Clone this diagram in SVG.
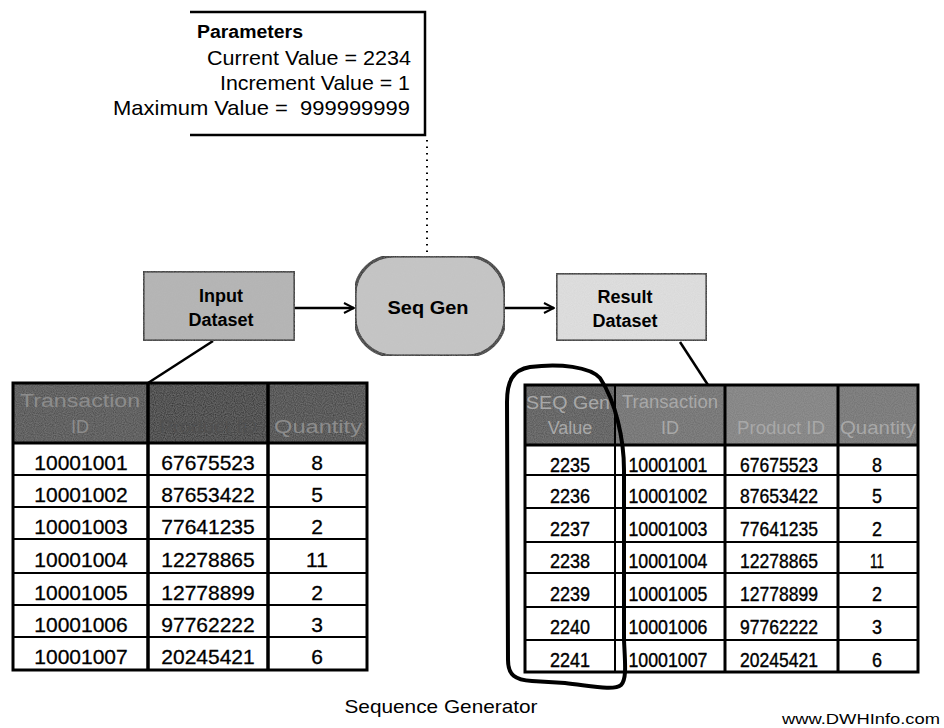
<svg xmlns="http://www.w3.org/2000/svg" width="944" height="728" viewBox="0 0 944 728">
<defs>
<marker id="arr" viewBox="0 0 12 12" refX="11" refY="6" markerWidth="12" markerHeight="12" markerUnits="userSpaceOnUse" orient="auto">
<path d="M1,1 L11,6 L1,11" fill="none" stroke="#000" stroke-width="2"/>
</marker>
<filter id="grain" x="0" y="0" width="100%" height="100%">
<feTurbulence type="fractalNoise" baseFrequency="0.9" numOctaves="1" seed="3" result="n"/>
<feColorMatrix in="n" type="matrix" values="0 0 0 0 0.5  0 0 0 0 0.5  0 0 0 0 0.5  0 0 0 0.35 0" result="g"/>
<feComposite in="g" in2="SourceGraphic" operator="in" result="gc"/>
<feMerge><feMergeNode in="SourceGraphic"/><feMergeNode in="gc"/></feMerge>
</filter>
</defs>
<style>
text{font-family:"Liberation Sans",Arial,Helvetica,sans-serif;fill:#000}
.b{font-weight:bold}
.p{font-size:21px}
.node{stroke:#000;stroke-width:3}
.lbl{font-size:18px;font-weight:bold;text-anchor:middle}
.cell{font-size:21px;text-anchor:middle;stroke:#000;stroke-width:0.3}
.rc{font-size:21px;text-anchor:middle;stroke:#000;stroke-width:0.4}
.hd{font-size:18px;text-anchor:middle;fill:#8c8c8c}
.hdr{font-size:18px;text-anchor:middle;fill:#a8a8a8}
.grid{stroke:#000;fill:none}
.conn{stroke:#000;stroke-width:2.5;fill:none}
</style>
<rect width="944" height="728" fill="#fff"/>

<g id="parameters">
<path d="M190,12 L425,12 L425,135 L190,135" fill="none" stroke="#000" stroke-width="2.5"/>
<text x="197" y="38" class="b" font-size="18" textLength="106" lengthAdjust="spacingAndGlyphs">Parameters</text>
<text x="411" y="65" class="p" text-anchor="end" textLength="204" lengthAdjust="spacingAndGlyphs">Current Value = 2234</text>
<text x="410" y="90" class="p" text-anchor="end" textLength="190" lengthAdjust="spacingAndGlyphs">Increment Value = 1</text>
<text x="410" y="115" class="p" text-anchor="end" xml:space="preserve" textLength="297" lengthAdjust="spacingAndGlyphs">Maximum Value =  999999999</text>
</g>

<g id="connectors">
<line x1="427" y1="140" x2="427" y2="254" stroke="#000" stroke-width="2" stroke-dasharray="1.5,5"/>
<line x1="295" y1="308" x2="354" y2="308" class="conn" marker-end="url(#arr)"/>
<line x1="505" y1="308" x2="554" y2="308" class="conn" marker-end="url(#arr)"/>
<line x1="213" y1="341" x2="148" y2="383" class="conn"/>
<line x1="680" y1="342" x2="708" y2="385" class="conn"/>
</g>

<g id="input-dataset">
<rect x="143" y="271" width="152" height="70" fill="#b4b4b4" class="node" filter="url(#grain)"/>
<text x="221" y="302" class="lbl">Input</text>
<text x="221" y="326" class="lbl">Dataset</text>
</g>

<g id="seq-gen">
<rect x="355" y="256" width="150" height="100" rx="38" ry="38" fill="#c6c6c6" class="node" filter="url(#grain)"/>
<text x="428" y="314" class="lbl" font-size="19" textLength="81" lengthAdjust="spacingAndGlyphs">Seq Gen</text>
</g>

<g id="result-dataset">
<rect x="556" y="273" width="151" height="68" fill="#e2e2e2" class="node" filter="url(#grain)"/>
<text x="625" y="303" class="lbl">Result</text>
<text x="625" y="327" class="lbl">Dataset</text>
</g>

<g id="input-table">
<rect x="13" y="383" width="135" height="60" fill="#3c3c3c" filter="url(#grain)"/>
<rect x="148" y="383" width="120" height="60" fill="#141414" filter="url(#grain)"/>
<rect x="268" y="383" width="99" height="60" fill="#2e2e2e" filter="url(#grain)"/>
<text x="80" y="407" class="hd" textLength="120" lengthAdjust="spacingAndGlyphs">Transaction</text>
<text x="80" y="433" class="hd">ID</text>
<text x="208" y="433" class="hd" style="fill:#505050" textLength="98" lengthAdjust="spacingAndGlyphs">Product ID</text>
<text x="318" y="433" class="hd" textLength="88" lengthAdjust="spacingAndGlyphs">Quantity</text>
<rect x="13" y="383" width="354" height="287" class="grid" stroke-width="3"/>
<path d="M148,383 V670 M268,383 V670" class="grid" stroke-width="3.5"/>
<path d="M13,443 H367" class="grid" stroke-width="3"/>
<path d="M13,475 H367 M13,507 H367 M13,539 H367 M13,573 H367 M13,605 H367 M13,637 H367" class="grid" stroke-width="2"/>
<text x="81" y="470" class="cell">10001001</text>
<text x="81" y="502" class="cell">10001002</text>
<text x="81" y="534" class="cell">10001003</text>
<text x="81" y="567" class="cell">10001004</text>
<text x="81" y="600" class="cell">10001005</text>
<text x="81" y="632" class="cell">10001006</text>
<text x="81" y="664" class="cell">10001007</text>
<text x="208" y="470" class="cell">67675523</text>
<text x="208" y="502" class="cell">87653422</text>
<text x="208" y="534" class="cell">77641235</text>
<text x="208" y="567" class="cell">12278865</text>
<text x="208" y="600" class="cell">12778899</text>
<text x="208" y="632" class="cell">97762222</text>
<text x="208" y="664" class="cell">20245421</text>
<text x="317" y="470" class="cell">8</text>
<text x="317" y="502" class="cell">5</text>
<text x="317" y="534" class="cell">2</text>
<text x="317" y="567" class="cell">11</text>
<text x="317" y="600" class="cell">2</text>
<text x="317" y="632" class="cell">3</text>
<text x="317" y="664" class="cell">6</text>
</g>

<g id="result-table">
<rect x="525" y="385" width="90" height="60" fill="#484848" filter="url(#grain)"/>
<rect x="615" y="385" width="110" height="60" fill="#666" filter="url(#grain)"/>
<rect x="725" y="385" width="113" height="60" fill="#7a7a7a" filter="url(#grain)"/>
<rect x="838" y="385" width="80" height="60" fill="#6c6c6c" filter="url(#grain)"/>
<text x="568" y="409" class="hdr" textLength="84" lengthAdjust="spacingAndGlyphs">SEQ Gen</text>
<text x="570" y="434" class="hdr">Value</text>
<text x="670" y="408" class="hdr" textLength="96" lengthAdjust="spacingAndGlyphs">Transaction</text>
<text x="670" y="434" class="hdr">ID</text>
<text x="781" y="434" class="hdr" textLength="88" lengthAdjust="spacingAndGlyphs">Product ID</text>
<text x="878" y="434" class="hdr" textLength="76" lengthAdjust="spacingAndGlyphs">Quantity</text>
<rect x="525" y="385" width="393" height="287" class="grid" stroke-width="3"/>
<path d="M615,385 V672" class="grid" stroke-width="2"/>
<path d="M725,385 V672 M838,385 V672" class="grid" stroke-width="3"/>
<path d="M525,445 H918" class="grid" stroke-width="3"/>
<path d="M525,475 H918 M525,508 H918 M525,542 H918 M525,573 H918 M525,607 H918 M525,640 H918" class="grid" stroke-width="2"/>
<text x="570" y="472" class="rc" textLength="40" lengthAdjust="spacingAndGlyphs">2235</text>
<text x="570" y="503" class="rc" textLength="40" lengthAdjust="spacingAndGlyphs">2236</text>
<text x="570" y="536" class="rc" textLength="40" lengthAdjust="spacingAndGlyphs">2237</text>
<text x="570" y="568" class="rc" textLength="40" lengthAdjust="spacingAndGlyphs">2238</text>
<text x="570" y="601" class="rc" textLength="40" lengthAdjust="spacingAndGlyphs">2239</text>
<text x="570" y="634" class="rc" textLength="40" lengthAdjust="spacingAndGlyphs">2240</text>
<text x="570" y="667" class="rc" textLength="40" lengthAdjust="spacingAndGlyphs">2241</text>
<text x="668" y="472" class="rc" textLength="79" lengthAdjust="spacingAndGlyphs">10001001</text>
<text x="668" y="503" class="rc" textLength="79" lengthAdjust="spacingAndGlyphs">10001002</text>
<text x="668" y="536" class="rc" textLength="79" lengthAdjust="spacingAndGlyphs">10001003</text>
<text x="668" y="568" class="rc" textLength="79" lengthAdjust="spacingAndGlyphs">10001004</text>
<text x="668" y="601" class="rc" textLength="79" lengthAdjust="spacingAndGlyphs">10001005</text>
<text x="668" y="634" class="rc" textLength="79" lengthAdjust="spacingAndGlyphs">10001006</text>
<text x="668" y="667" class="rc" textLength="79" lengthAdjust="spacingAndGlyphs">10001007</text>
<text x="779" y="472" class="rc" textLength="78" lengthAdjust="spacingAndGlyphs">67675523</text>
<text x="779" y="503" class="rc" textLength="78" lengthAdjust="spacingAndGlyphs">87653422</text>
<text x="779" y="536" class="rc" textLength="78" lengthAdjust="spacingAndGlyphs">77641235</text>
<text x="779" y="568" class="rc" textLength="78" lengthAdjust="spacingAndGlyphs">12278865</text>
<text x="779" y="601" class="rc" textLength="78" lengthAdjust="spacingAndGlyphs">12778899</text>
<text x="779" y="634" class="rc" textLength="78" lengthAdjust="spacingAndGlyphs">97762222</text>
<text x="779" y="667" class="rc" textLength="78" lengthAdjust="spacingAndGlyphs">20245421</text>
<text x="877" y="472" class="rc" textLength="10" lengthAdjust="spacingAndGlyphs">8</text>
<text x="877" y="503" class="rc" textLength="10" lengthAdjust="spacingAndGlyphs">5</text>
<text x="877" y="536" class="rc" textLength="10" lengthAdjust="spacingAndGlyphs">2</text>
<text x="877" y="568" class="rc" textLength="14" lengthAdjust="spacingAndGlyphs">11</text>
<text x="877" y="601" class="rc" textLength="10" lengthAdjust="spacingAndGlyphs">2</text>
<text x="877" y="634" class="rc" textLength="10" lengthAdjust="spacingAndGlyphs">3</text>
<text x="877" y="667" class="rc" textLength="10" lengthAdjust="spacingAndGlyphs">6</text>
</g>

<g id="highlight-loop">
<path d="M600,378 C590,367 560,363 530,367 C512,370 507,382 507,402 L508,660 C508,675 515,680 532,681 L565,683 C592,686 614,691 621,685 C627,679 625,662 624,640 L624,470 C624,440 616,402 600,378 Z" fill="none" stroke="#000" stroke-width="4" stroke-linejoin="round"/>
</g>

<g id="captions">
<text x="441" y="713" font-size="19" text-anchor="middle" textLength="193" lengthAdjust="spacingAndGlyphs">Sequence Generator</text>
<text x="861" y="724" font-size="14" text-anchor="middle" textLength="158" lengthAdjust="spacingAndGlyphs">www.DWHInfo.com</text>
</g>
</svg>
